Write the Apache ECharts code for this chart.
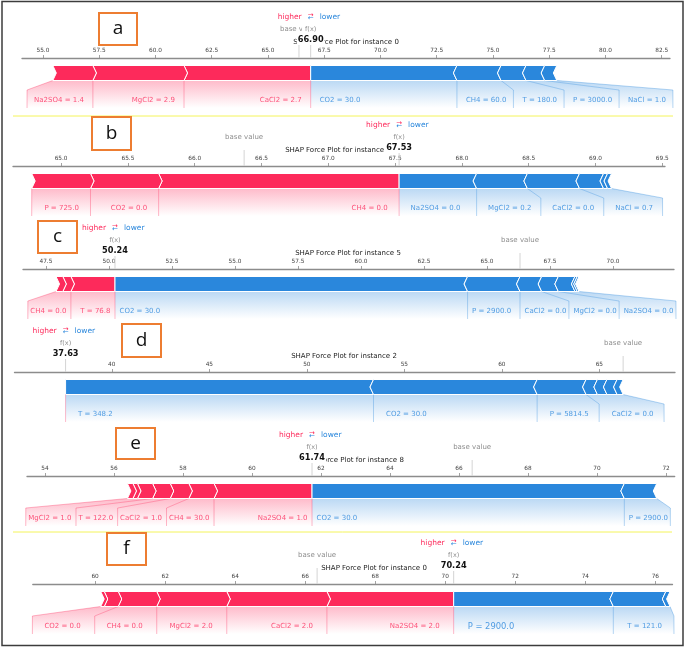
<!doctype html>
<html>
<head>
<meta charset="UTF-8">
<title>SHAP Force Plots</title>
<script src="https://cdn.jsdelivr.net/npm/echarts@6/dist/echarts.min.js"></script>
<style>
    html, body { margin: 0; padding: 0; background: #fff; }
    #main { width: 685px; height: 652px; }
</style>
</head>
<body>
<div id="main"></div>
<script>
// ---------- values ----------
// red = pushes higher (listed from f(x) outwards), blue = pushes lower
var a_title = 'SHAP Force Plot for instance 0';
var a_fx = 66.90;
var a_red_labels = ['CaCl2 = 2.7', 'MgCl2 = 2.9', 'Na2SO4 = 1.4'];
var a_red_shap = [5.63, 4.05, 1.78];
var a_blue_labels = ['CO2 = 30.0', 'CH4 = 60.0', 'T = 180.0', 'P = 3000.0', 'NaCl = 1.0'];
var a_blue_shap = [6.50, 1.96, 1.11, 0.83, 0.54];
var a_ticks = [55.0, 57.5, 60.0, 62.5, 65.0, 67.5, 70.0, 72.5, 75.0, 77.5, 80.0, 82.5];
var a_tick_labels = ['55.0', '57.5', '60.0', '62.5', '65.0', '67.5', '70.0', '72.5', '75.0', '77.5', '80.0', '82.5'];
var a_range = [54.07, 82.87];

var b_title = 'SHAP Force Plot for instance 5';
var b_fx = 67.53;
var b_red_labels = ['CH4 = 0.0', 'CO2 = 0.0', 'P = 725.0'];
var b_red_shap = [1.80, 0.51, 0.44];
var b_blue_labels = ['Na2SO4 = 0.0', 'MgCl2 = 0.2', 'CaCl2 = 0.0', 'NaCl = 0.7', '', ''];
var b_blue_shap = [0.58, 0.38, 0.39, 0.18, 0.03, 0.03];
var b_ticks = [65.0, 65.5, 66.0, 66.5, 67.0, 67.5, 68.0, 68.5, 69.0, 69.5];
var b_tick_labels = ['65.0', '65.5', '66.0', '66.5', '67.0', '67.5', '68.0', '68.5', '69.0', '69.5'];
var b_range = [64.64, 69.52];

var c_title = 'SHAP Force Plot for instance 5';
var c_fx = 50.24;
var c_red_labels = ['T = 76.8', 'CH4 = 0.0', ''];
var c_red_shap = [1.75, 0.32, 0.27];
var c_blue_labels = ['CO2 = 30.0', 'P = 2900.0', 'CaCl2 = 0.0', 'MgCl2 = 0.0', 'Na2SO4 = 0.0', '', ''];
var c_blue_shap = [13.99, 2.08, 0.86, 0.66, 0.66, 0.09, 0.07];
var c_ticks = [47.5, 50.0, 52.5, 55.0, 57.5, 60.0, 62.5, 65.0, 67.5, 70.0];
var c_tick_labels = ['47.5', '50.0', '52.5', '55.0', '57.5', '60.0', '62.5', '65.0', '67.5', '70.0'];
var c_range = [46.59, 72.42];

var d_title = 'SHAP Force Plot for instance 2';
var d_fx = 37.63;
var d_red_labels = [];
var d_red_shap = [];
var d_blue_labels = ['T = 348.2', 'CO2 = 30.0', 'P = 5814.5', 'CaCl2 = 0.0', '', '', ''];
var d_blue_shap = [15.79, 8.39, 2.51, 0.58, 0.49, 0.52, 0.31];
var d_ticks = [40, 45, 50, 55, 60, 65];
var d_tick_labels = ['40', '45', '50', '55', '60', '65'];
var d_range = [35.01, 68.88];

var e_title = 'SHAP Force Plot for instance 8';
var e_fx = 61.74;
var e_red_labels = ['Na2SO4 = 1.0', 'CH4 = 30.0', 'CaCl2 = 1.0', 'T = 122.0', 'MgCl2 = 1.0', '', ''];
var e_red_shap = [2.84, 0.73, 0.54, 0.51, 0.44, 0.13, 0.16];
var e_blue_labels = ['CO2 = 30.0', 'P = 2900.0'];
var e_blue_shap = [9.05, 0.94];
var e_ticks = [54, 56, 58, 60, 62, 64, 66, 68, 70, 72];
var e_tick_labels = ['54', '56', '58', '60', '62', '64', '66', '68', '70', '72'];
var e_range = [53.48, 72.25];

var f_title = 'SHAP Force Plot for instance 0';
var f_fx = 70.24;
var f_red_labels = ['Na2SO4 = 2.0', 'CaCl2 = 2.0', 'MgCl2 = 2.0', 'CH4 = 0.0', 'CO2 = 0.0', ''];
var f_red_shap = [3.62, 2.86, 2.00, 1.10, 0.40, 0.10];
var f_blue_labels = ['P = 2900.0', 'T = 121.0', ''];
var f_blue_shap = [4.56, 1.50, 0.12];
var f_ticks = [60, 62, 64, 66, 68, 70, 72, 74, 76];
var f_tick_labels = ['60', '62', '64', '66', '68', '70', '72', '74', '76'];
var f_range = [58.22, 76.49];

var panel_letters = ['a', 'b', 'c', 'd', 'e', 'f'];

// ---------- layout / style ----------
var RED = '#fd2a5b', BLUE = '#2a87dc';
var RED_RGB = '253,42,91', BLUE_RGB = '42,135,220';
var FONT = 'DejaVu Sans';

var panels = [
    {fx: a_fx, redLabels: a_red_labels, redShap: a_red_shap, blueLabels: a_blue_labels, blueShap: a_blue_shap,
        ticks: a_ticks, tickLabels: a_tick_labels, range: a_range, title: a_title, y0: 58, left: 22, right: 670, pad: 8, titleX: 346},
    {fx: b_fx, redLabels: b_red_labels, redShap: b_red_shap, blueLabels: b_blue_labels, blueShap: b_blue_shap,
        ticks: b_ticks, tickLabels: b_tick_labels, range: b_range, title: b_title, y0: 166, left: 13, right: 665, pad: 10.5, titleX: 338},
    {fx: c_fx, redLabels: c_red_labels, redShap: c_red_shap, blueLabels: c_blue_labels, blueShap: c_blue_shap,
        ticks: c_ticks, tickLabels: c_tick_labels, range: c_range, title: c_title, y0: 269, left: 23, right: 674, pad: 3.5, titleX: 348},
    {fx: d_fx, redLabels: d_red_labels, redShap: d_red_shap, blueLabels: d_blue_labels, blueShap: d_blue_shap,
        ticks: d_ticks, tickLabels: d_tick_labels, range: d_range, title: d_title, y0: 372, left: 14.5, right: 675, pad: 11.5, titleX: 344},
    {fx: e_fx, redLabels: e_red_labels, redShap: e_red_shap, blueLabels: e_blue_labels, blueShap: e_blue_shap,
        ticks: e_ticks, tickLabels: e_tick_labels, range: e_range, title: e_title, y0: 476, left: 27, right: 674.7, pad: 3.5, titleX: 351},
    {fx: f_fx, redLabels: f_red_labels, redShap: f_red_shap, blueLabels: f_blue_labels, blueShap: f_blue_shap,
        ticks: f_ticks, tickLabels: f_tick_labels, range: f_range, title: f_title, y0: 584, left: 32.8, right: 672.5, pad: 13, titleX: 374,
        bigBlueFirst: true}
];

// letter boxes [x, y, w, h]
var letterBoxes = [[99, 13, 38, 32], [92, 117, 39, 33], [38, 221, 39, 32], [122, 324, 39, 33], [116, 428, 39, 31], [107, 533, 39, 32]];

var measureCtx = document.createElement('canvas').getContext('2d');
function textWidth(s, size) {
    measureCtx.font = size + 'px "' + FONT + '"';
    return measureCtx.measureText(s).width;
}

// bars and label cells, in pixels (through the axis scale)
function layoutPanel(p, px) {
    var fxPx = px(p.fx);
    function side(labels, shaps, sign, big) {
        var segs = [], cur = p.fx;
        for (var i = 0; i < shaps.length; i++) {
            var far = cur + sign * shaps[i];
            segs.push({near: cur, far: far, label: labels[i]});
            cur = far;
        }
        var groups = [], g = null;
        segs.forEach(function (s, i) {
            if (s.label) {
                g = {first: i, label: s.label, segNear: px(s.near), segFar: px(s.far)};
                groups.push(g);
            } else if (g) {
                g.segFar = px(s.far);
            }
        });
        var cursor = fxPx;
        groups.forEach(function (g, k) {
            g.fontSize = (big && k === 0) ? 8.4 : 7;
            var w = Math.max(Math.abs(g.segNear - g.segFar), textWidth(g.label, g.fontSize) + 2 * p.pad);
            g.cellNear = cursor;
            g.cellFar = cursor + sign * w;
            cursor = g.cellFar;
        });
        return {segs: segs, groups: groups, end: cur};
    }
    var red = side(p.redLabels, p.redShap, -1, false);
    var blue = side(p.blueLabels, p.blueShap, 1, p.bigBlueFirst);
    return {red: red, blue: blue, base: red.end + (blue.end - p.fx), fxPx: fxPx};
}

function makeRender(p) {
    return function (params, api) {
        var y0 = params.coordSys.y;
        var px = function (v) { return api.coord([v, 0])[0]; };
        var L = layoutPanel(p, px);
        var top = y0 + 7.5, bot = y0 + 22.5, mid = (top + bot) / 2;
        var slantY = y0 + 32, bottomY = y0 + 50, textY = y0 + 42.5;
        var dep = 3.5;
        var kind = api.value(2);
        var children = [];

        if (kind === 2) {
            // header: base value / f(x) / title / higher-lower
            var bx = px(L.base), fxp = L.fxPx;
            children.push({type: 'line', shape: {x1: bx, y1: y0 - 16, x2: bx, y2: y0}, style: {stroke: '#d4d4d4', lineWidth: 1}});
            children.push({type: 'line', shape: {x1: fxp, y1: y0 - 16, x2: fxp, y2: y0}, style: {stroke: '#d4d4d4', lineWidth: 1}});
            children.push({type: 'line', shape: {x1: fxp, y1: bot, x2: fxp, y2: bottomY},
                style: {stroke: 'rgba(' + RED_RGB + ',0.4)', lineWidth: 0.8}});
            children.push({type: 'text', style: {text: p.title, x: p.titleX, y: y0 - 15.5, align: 'center', verticalAlign: 'middle',
                fontSize: 7, fontFamily: FONT, fill: '#222'}});
            children.push({type: 'text', style: {text: 'base value', x: bx, y: y0 - 29, align: 'center', verticalAlign: 'middle',
                fontSize: 7, fontFamily: FONT, fill: '#8d8d8d'}});
            children.push({type: 'text', style: {text: 'f(x)', x: fxp, y: y0 - 29, align: 'center', verticalAlign: 'middle',
                fontSize: 6.5, fontFamily: FONT, fill: '#8d8d8d', backgroundColor: '#fff', padding: [1, 3]}});
            children.push({type: 'text', style: {text: p.fx.toFixed(2), x: fxp, y: y0 - 18, align: 'center', verticalAlign: 'middle',
                fontSize: 8.2, fontWeight: 'bold', fontFamily: FONT, fill: '#111', backgroundColor: '#fff', padding: [1, 1]}});
            children.push({type: 'text', style: {text: 'higher', x: fxp - 9, y: y0 - 41, align: 'right', verticalAlign: 'middle',
                fontSize: 7.5, fontFamily: FONT, fill: RED}});
            children.push({type: 'text', style: {text: 'lower', x: fxp + 9, y: y0 - 41, align: 'left', verticalAlign: 'middle',
                fontSize: 7.5, fontFamily: FONT, fill: BLUE}});
            children.push({type: 'text', style: {text: '\u2192', x: fxp, y: y0 - 42.7, align: 'center', verticalAlign: 'middle',
                fontSize: 7, fontFamily: FONT, fill: RED}});
            children.push({type: 'text', style: {text: '\u2190', x: fxp, y: y0 - 39.6, align: 'center', verticalAlign: 'middle',
                fontSize: 7, fontFamily: FONT, fill: BLUE}});
            return {type: 'group', children: children};
        }

        var sign = kind === 0 ? -1 : 1;
        var S = kind === 0 ? L.red : L.blue;
        var rgb = kind === 0 ? RED_RGB : BLUE_RGB;
        var col = kind === 0 ? RED : BLUE;
        var i = api.value(3);
        var seg = S.segs[i];
        var near = px(seg.near), far = px(seg.far);

        // label cell (drawn before the bar so the bar sits on top)
        S.groups.forEach(function (g) {
            if (g.first !== i) return;
            children.push({
                type: 'polygon',
                shape: {points: [[g.segNear, bot], [g.segFar, bot], [g.cellFar, slantY], [g.cellFar, bottomY],
                    [g.cellNear, bottomY], [g.cellNear, slantY]]},
                style: {fill: new echarts.graphic.LinearGradient(0, 0, 0, 1, [
                    {offset: 0, color: 'rgba(' + rgb + ',0.32)'},
                    {offset: 1, color: 'rgba(' + rgb + ',0)'}
                ])}
            });
            children.push({
                type: 'polyline',
                shape: {points: [[g.segFar, bot], [g.cellFar, slantY], [g.cellFar, bottomY]]},
                style: {stroke: 'rgba(' + rgb + ',0.42)', lineWidth: 0.8, fill: null}
            });
            children.push({type: 'text', style: {
                text: g.label, x: g.cellNear + sign * (p.pad + 1), y: textY,
                align: kind === 0 ? 'right' : 'left', verticalAlign: 'middle',
                fontSize: g.fontSize, fontFamily: FONT, fill: col, opacity: 0.8
            }});
        });

        var pts = [[near, top], [far, top], [far - sign * dep, mid], [far, bot], [near, bot]];
        if (i > 0) pts.push([near - sign * dep, mid]);
        children.push({type: 'polygon', shape: {points: pts}, style: {fill: col, stroke: '#fff', lineWidth: 1}});
        return {type: 'group', children: children};
    };
}

function tickFormatter(ticks, labels) {
    return function (v) {
        for (var j = 0; j < ticks.length; j++) {
            if (Math.abs(ticks[j] - v) < 1e-6) return labels[j];
        }
        return '';
    };
}

var grids = [], xAxes = [], yAxes = [], series = [];
panels.forEach(function (p, k) {
    grids.push({left: p.left, top: p.y0, width: p.right - p.left, height: 60});
    xAxes.push({
        gridIndex: k, type: 'value', position: 'top', min: p.range[0], max: p.range[1],
        axisLine: {onZero: false, lineStyle: {color: '#8c8c8c', width: 1.3}},
        axisTick: {show: true, length: 3, inside: false, customValues: p.ticks, lineStyle: {color: '#8c8c8c', width: 0.8}},
        axisLabel: {customValues: p.ticks, formatter: tickFormatter(p.ticks, p.tickLabels), fontSize: 5.8,
            color: '#444', margin: 4.5, fontFamily: FONT},
        splitLine: {show: false}
    });
    yAxes.push({gridIndex: k, type: 'value', min: 0, max: 1, show: false});

    var data = [], cur = p.fx;
    p.redShap.forEach(function (s, i) { data.push([cur - s, cur, 0, i]); cur -= s; });
    cur = p.fx;
    p.blueShap.forEach(function (s, i) { data.push([cur, cur + s, 1, i]); cur += s; });
    data.push([p.fx, p.fx, 2, 0]);

    series.push({
        type: 'custom', coordinateSystem: 'cartesian2d', xAxisIndex: k, yAxisIndex: k,
        renderItem: makeRender(p), data: data, clip: false, silent: true,
        encode: {x: [0, 1]}
    });
});

var graphics = [
    {type: 'rect', shape: {x: 2, y: 1.5, width: 681, height: 644}, style: {fill: null, stroke: '#3c3c3c', lineWidth: 1.5}, z: 0},
    {type: 'line', shape: {x1: 13, y1: 116, x2: 673, y2: 116}, style: {stroke: '#f4f45a', lineWidth: 1}},
    {type: 'line', shape: {x1: 13, y1: 532, x2: 672, y2: 532}, style: {stroke: '#f4f45a', lineWidth: 1}}
];
letterBoxes.forEach(function (b, k) {
    graphics.push({type: 'rect', shape: {x: b[0], y: b[1], width: b[2], height: b[3]},
        style: {fill: '#fff', stroke: '#ed7d31', lineWidth: 2}, z: 10});
    graphics.push({type: 'text', x: b[0] + b[2] / 2, y: b[1] + b[3] / 2,
        style: {text: panel_letters[k], align: 'center', verticalAlign: 'middle', fontSize: 19, fontFamily: 'Open Sans', fill: '#111'}, z: 11});
});

var dom = document.getElementById('main');
var myChart = echarts.init(dom, null, {renderer: 'canvas'});
var option = {
    animation: false,
    backgroundColor: '#fff',
    grid: grids,
    xAxis: xAxes,
    yAxis: yAxes,
    series: series,
    graphic: graphics
};
myChart.setOption(option);
</script>
</body>
</html>
